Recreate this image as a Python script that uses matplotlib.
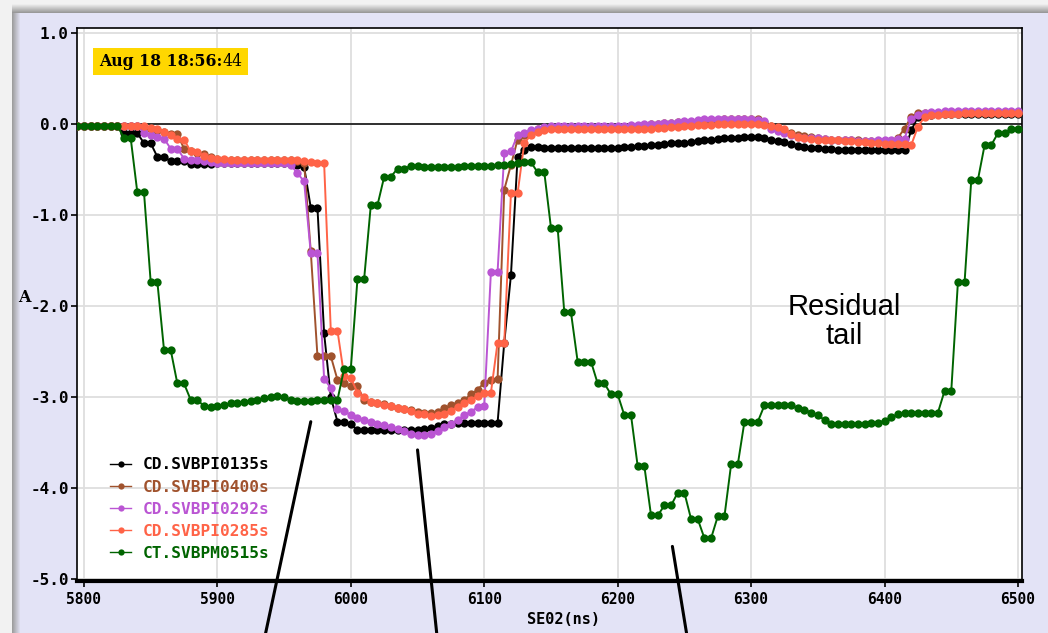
import numpy as np
import matplotlib
matplotlib.use("Agg")
import matplotlib.pyplot as plt
from matplotlib.patches import Rectangle
from matplotlib.ticker import FormatStrFormatter

# Sampling grid of the bunch-length scan (ns)
x_ns = np.arange(5795, 6501, 5)

cd_svbpi0135s = [
    -0.02, -0.02, -0.02, -0.02, -0.02, -0.02, -0.02, -0.10, -0.10, -0.10,
    -0.21, -0.21, -0.36, -0.36, -0.41, -0.41, -0.41, -0.44, -0.44, -0.44,
    -0.44, -0.43, -0.43, -0.43, -0.43, -0.43, -0.43, -0.43, -0.43, -0.43,
    -0.43, -0.43, -0.44, -0.45, -0.47, -0.92, -0.92, -2.30, -3.00, -3.27,
    -3.27, -3.30, -3.36, -3.36, -3.36, -3.36, -3.36, -3.36, -3.36, -3.36,
    -3.36, -3.36, -3.35, -3.34, -3.32, -3.30, -3.29, -3.28, -3.28, -3.28,
    -3.28, -3.28, -3.28, -3.28, -2.40, -1.66, -0.36, -0.28, -0.25, -0.25,
    -0.26, -0.26, -0.26, -0.26, -0.26, -0.26, -0.26, -0.26, -0.26, -0.26,
    -0.26, -0.26, -0.25, -0.25, -0.24, -0.24, -0.23, -0.23, -0.22, -0.21,
    -0.21, -0.21, -0.20, -0.19, -0.18, -0.17, -0.16, -0.15, -0.15, -0.15,
    -0.14, -0.14, -0.14, -0.15, -0.17, -0.19, -0.20, -0.22, -0.24, -0.25,
    -0.26, -0.26, -0.27, -0.27, -0.28, -0.28, -0.28, -0.28, -0.28, -0.28,
    -0.28, -0.28, -0.29, -0.29, -0.29, -0.07, 0.08, 0.10, 0.10, 0.11,
    0.11, 0.11, 0.11, 0.11, 0.11, 0.11, 0.11, 0.11, 0.11, 0.11,
    0.11, 0.11,
]

cd_svbpi0400s = [
    -0.02, -0.02, -0.02, -0.02, -0.02, -0.02, -0.02, -0.02, -0.02, -0.02,
    -0.03, -0.05, -0.07, -0.09, -0.11, -0.11, -0.27, -0.30, -0.32, -0.33,
    -0.36, -0.38, -0.39, -0.39, -0.39, -0.39, -0.39, -0.39, -0.39, -0.39,
    -0.39, -0.39, -0.40, -0.41, -0.43, -1.40, -2.55, -2.55, -2.55, -2.81,
    -2.85, -2.88, -2.88, -3.03, -3.05, -3.07, -3.08, -3.10, -3.12, -3.13,
    -3.14, -3.16, -3.17, -3.17, -3.16, -3.12, -3.09, -3.06, -3.03, -2.97,
    -2.92, -2.84, -2.81, -2.80, -0.72, -0.45, -0.17, -0.12, -0.08, -0.05,
    -0.04, -0.04, -0.04, -0.04, -0.04, -0.04, -0.04, -0.04, -0.04, -0.04,
    -0.04, -0.04, -0.03, -0.03, -0.02, -0.01, 0.00, 0.00, 0.01, 0.01,
    0.02, 0.02, 0.02, 0.03, 0.03, 0.04, 0.04, 0.05, 0.05, 0.06,
    0.06, 0.06, 0.05, 0.02, -0.02, -0.05, -0.08, -0.10, -0.12, -0.13,
    -0.14, -0.15, -0.16, -0.17, -0.17, -0.18, -0.18, -0.18, -0.19, -0.19,
    -0.19, -0.19, -0.19, -0.15, -0.05, 0.08, 0.12, 0.12, 0.12, 0.12,
    0.12, 0.12, 0.12, 0.12, 0.12, 0.12, 0.12, 0.12, 0.12, 0.12,
    0.12, 0.12,
]

cd_svbpi0292s = [
    -0.02, -0.02, -0.02, -0.02, -0.02, -0.02, -0.02, -0.02, -0.02, -0.02,
    -0.10, -0.12, -0.14, -0.16, -0.27, -0.27, -0.38, -0.39, -0.39, -0.41,
    -0.42, -0.43, -0.43, -0.43, -0.43, -0.43, -0.43, -0.43, -0.43, -0.43,
    -0.43, -0.43, -0.45, -0.54, -0.63, -1.42, -1.42, -2.80, -2.90, -3.13,
    -3.15, -3.20, -3.23, -3.25, -3.27, -3.29, -3.31, -3.33, -3.35, -3.37,
    -3.40, -3.42, -3.42, -3.40, -3.37, -3.33, -3.29, -3.25, -3.20, -3.16,
    -3.11, -3.10, -1.62, -1.62, -0.32, -0.30, -0.12, -0.10, -0.07, -0.05,
    -0.03, -0.02, -0.02, -0.02, -0.02, -0.02, -0.02, -0.02, -0.02, -0.02,
    -0.02, -0.02, -0.02, -0.01, -0.01, 0.00, 0.00, 0.00, 0.01, 0.01,
    0.02, 0.03, 0.03, 0.04, 0.05, 0.05, 0.06, 0.06, 0.06, 0.06,
    0.06, 0.05, 0.04, 0.03, -0.05, -0.08, -0.10, -0.12, -0.14, -0.15,
    -0.15, -0.15, -0.16, -0.17, -0.18, -0.18, -0.18, -0.19, -0.19, -0.19,
    -0.18, -0.18, -0.17, -0.16, -0.16, 0.06, 0.10, 0.12, 0.13, 0.13,
    0.14, 0.14, 0.14, 0.14, 0.14, 0.14, 0.14, 0.14, 0.14, 0.14,
    0.14, 0.14,
]

cd_svbpi0285s = [
    -0.02, -0.02, -0.02, -0.02, -0.02, -0.02, -0.02, -0.02, -0.02, -0.02,
    -0.02, -0.04, -0.06, -0.09, -0.12, -0.16, -0.17, -0.30, -0.31, -0.35,
    -0.37, -0.38, -0.38, -0.39, -0.39, -0.39, -0.39, -0.39, -0.39, -0.39,
    -0.39, -0.39, -0.39, -0.40, -0.41, -0.42, -0.43, -0.43, -2.27, -2.27,
    -2.77, -2.79, -2.95, -3.00, -3.05, -3.07, -3.09, -3.10, -3.12, -3.13,
    -3.15, -3.18, -3.19, -3.21, -3.20, -3.18, -3.15, -3.11, -3.07, -3.03,
    -2.99, -2.95, -2.95, -2.40, -2.40, -0.76, -0.76, -0.21, -0.12, -0.09,
    -0.07, -0.06, -0.06, -0.06, -0.06, -0.06, -0.06, -0.06, -0.06, -0.06,
    -0.06, -0.06, -0.06, -0.06, -0.05, -0.05, -0.05, -0.04, -0.04, -0.03,
    -0.03, -0.02, -0.02, -0.01, -0.01, -0.01, 0.00, 0.00, 0.00, 0.00,
    0.00, 0.00, 0.00, -0.01, -0.02, -0.03, -0.06, -0.11, -0.14, -0.15,
    -0.16, -0.17, -0.17, -0.18, -0.18, -0.19, -0.19, -0.20, -0.20, -0.21,
    -0.21, -0.22, -0.22, -0.22, -0.22, -0.23, -0.03, 0.08, 0.10, 0.10,
    0.11, 0.11, 0.11, 0.12, 0.12, 0.12, 0.12, 0.12, 0.12, 0.12,
    0.12, 0.12,
]

ct_svbpm0515s = [
    -0.02, -0.02, -0.02, -0.02, -0.02, -0.02, -0.02, -0.15, -0.15, -0.75,
    -0.75, -1.73, -1.73, -2.48, -2.48, -2.85, -2.85, -3.03, -3.03, -3.10,
    -3.11, -3.10, -3.09, -3.07, -3.06, -3.05, -3.04, -3.03, -3.01, -3.00,
    -2.99, -3.00, -3.03, -3.04, -3.04, -3.04, -3.03, -3.03, -3.03, -3.03,
    -2.69, -2.69, -1.70, -1.70, -0.89, -0.89, -0.58, -0.58, -0.49, -0.49,
    -0.46, -0.46, -0.47, -0.47, -0.47, -0.47, -0.47, -0.47, -0.46, -0.46,
    -0.46, -0.46, -0.46, -0.45, -0.45, -0.44, -0.43, -0.42, -0.42, -0.53,
    -0.53, -1.14, -1.14, -2.07, -2.07, -2.61, -2.61, -2.61, -2.85, -2.85,
    -2.97, -2.97, -3.20, -3.20, -3.76, -3.76, -4.30, -4.30, -4.19, -4.19,
    -4.05, -4.05, -4.34, -4.34, -4.55, -4.55, -4.31, -4.31, -3.74, -3.74,
    -3.27, -3.27, -3.27, -3.09, -3.09, -3.09, -3.09, -3.09, -3.12, -3.14,
    -3.17, -3.20, -3.25, -3.29, -3.30, -3.30, -3.30, -3.30, -3.29, -3.28,
    -3.28, -3.26, -3.22, -3.19, -3.17, -3.17, -3.17, -3.17, -3.17, -3.17,
    -2.93, -2.93, -1.73, -1.73, -0.61, -0.61, -0.23, -0.23, -0.10, -0.10,
    -0.06, -0.06,
]

series_names = ["CD.SVBPI0135s", "CD.SVBPI0400s", "CD.SVBPI0292s",
                "CD.SVBPI0285s", "CT.SVBPM0515s"]
series_values = [cd_svbpi0135s, cd_svbpi0400s, cd_svbpi0292s,
                 cd_svbpi0285s, ct_svbpm0515s]
series_colors = ["#000000", "#a0522d", "#ba55d3", "#ff6347", "#006400"]

x_ticks = [5800, 5900, 6000, 6100, 6200, 6300, 6400, 6500]
y_ticks = [1.0, 0.0, -1.0, -2.0, -3.0, -4.0, -5.0]
timestamp = "Aug 18 18:56:"
timestamp_sec = "44"
note_text = "Residual\ntail"
# pointers from the lower edge of the window to features of the traces
pointer_targets = [(5970, -3.27), (6050, -3.58), (6241, -4.64)]
pointer_feet_px = [265, 437, 687]

W, H = 1048, 633
fig = plt.figure(figsize=(W / 100, H / 100), dpi=100)

# window background: lavender panel with a grey shadow on the top and left
img = np.ones((H, W, 3)) * np.array([0.95, 0.95, 0.95])
lav = np.array([0.894, 0.894, 0.965])
img[13:, 20:] = lav
for r in range(4, 13):
    t = (r - 4) / 8.0
    img[r, 12:] = (1 - t) * np.array([0.93, 0.93, 0.93]) + t * np.array([0.60, 0.60, 0.60])
for c in range(12, 21):
    t = (c - 12) / 8.0
    img[13:, c] = (1 - t) * np.array([0.62, 0.62, 0.62]) + t * lav
bg = fig.add_axes([0, 0, 1, 1], zorder=-10)
bg.imshow(img, aspect="auto", extent=(0, W, 0, H), interpolation="nearest")
bg.set_axis_off()

left, right, top, bottom = 77, 1022, 28, 581
ax = fig.add_axes([left / W, 1 - bottom / H, (right - left) / W, (bottom - top) / H])
ax.set_facecolor("white")

for name, vals, color in zip(series_names, series_values, series_colors):
    ax.plot(x_ns, vals, color=color, lw=1.4, marker="o", ms=6, mew=0,
            label=name, zorder=3)

ax.axhline(0.0, color="black", lw=1.1, zorder=2)

ax.set_xlim(5794.8, 6503)
ax.set_ylim(-5.02, 1.055)
ax.set_xticks(x_ticks)
ax.set_yticks(y_ticks)
ax.yaxis.set_major_formatter(FormatStrFormatter("%.1f"))
ax.grid(True, color="#dedede", lw=1.3, zorder=0)
ax.set_axisbelow(True)

for s in ["left", "top", "right"]:
    ax.spines[s].set_linewidth(1.2)
ax.spines["bottom"].set_linewidth(3.0)

ax.tick_params(axis="y", direction="out", length=4, width=1.2, pad=2,
               labelsize=11.5)
ax.tick_params(axis="x", direction="out", length=4, width=1.2, pad=4,
               labelsize=10.5)
for lab in ax.get_yticklabels():
    lab.set_fontfamily(["DejaVu Sans Mono"])
    lab.set_fontweight("bold")
for lab in ax.get_xticklabels():
    lab.set_fontfamily(["DejaVu Sans Mono"])
    lab.set_fontweight("bold")

ax.set_xlabel("SE02(ns)", fontsize=11, fontweight="bold",
              family=["DejaVu Sans Mono"])
ax.xaxis.set_label_coords((563 - left) / (right - left), -(619 - bottom) / (bottom - top))
ax.xaxis.label.set_va("center")
ax.set_ylabel("A", rotation=0, fontsize=11.5, fontweight="bold",
              family=["DejaVu Serif"], ha="right", va="center")
ax.yaxis.set_label_coords(-(left - 31) / (right - left), (bottom - 298) / (bottom - top))

leg = ax.legend(loc="upper left",
                bbox_to_anchor=((104 - left) / (right - left), (bottom - 451) / (bottom - top)),
                frameon=False, handlelength=1.3, handletextpad=0.7,
                labelspacing=0.44, borderaxespad=0, numpoints=1,
                markerscale=0.75, labelcolor="linecolor",
                prop={"family": ["DejaVu Sans Mono"], "weight": "bold", "size": 11.6})
for h in leg.legend_handles:
    h.set_linewidth(1.0)

# timestamp tag
fig.add_artist(Rectangle((93 / W, 1 - 75 / H), 155 / W, 27 / H,
                         transform=fig.transFigure, fc="#ffd700", ec="none",
                         zorder=4))
t1 = fig.text(99 / W, 1 - 62 / H, timestamp, fontsize=11.3, fontweight="bold",
              family=["DejaVu Serif"], ha="left", va="center", zorder=5)
fig.canvas.draw()
bb = t1.get_window_extent()
fig.text(bb.x1 / W, 1 - 62 / H, timestamp_sec, fontsize=11.3,
         family=["DejaVu Serif"], ha="left", va="center", zorder=5)

ax.text(6370, -2.17, note_text, ha="center", va="center", fontsize=21,
        family=["Liberation Sans", "DejaVu Sans"], linespacing=1.05, zorder=5)

for (px, py), fx in zip(pointer_targets, pointer_feet_px):
    ax.annotate("", xy=(px, py), xycoords="data", xytext=(fx, -3),
                textcoords="figure pixels", annotation_clip=False,
                arrowprops=dict(arrowstyle="-", color="black", lw=2.2,
                                shrinkA=0, shrinkB=0), zorder=6)

fig.savefig("out.png", dpi=100)
